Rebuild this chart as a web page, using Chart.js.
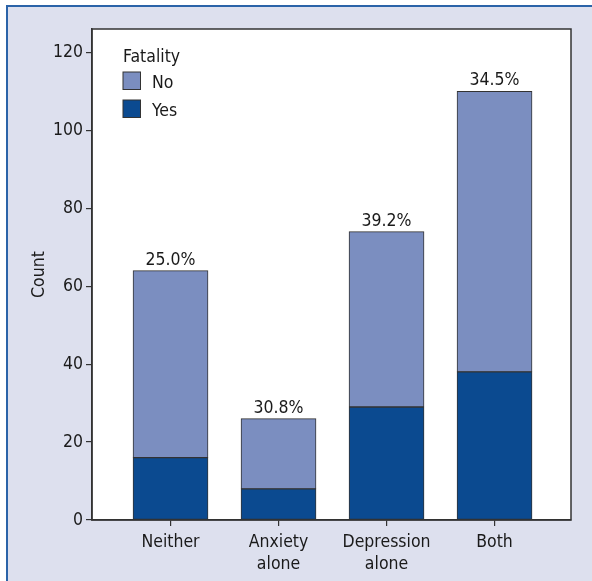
<!DOCTYPE html>
<html>
<head>
<meta charset="utf-8">
<script src="https://cdn.jsdelivr.net/npm/chart.js@4.4.1/dist/chart.umd.min.js"></script>
<style>
  html, body { margin: 0; padding: 0; background: #fff; }
  #wrap { position: relative; width: 592px; height: 581px; }
</style>
</head>
<body>
<div id="wrap"><canvas id="chart" width="592" height="581"></canvas></div>
<script>
// --- Data ---
const categories = [['Neither'], ['Anxiety', 'alone'], ['Depression', 'alone'], ['Both']];
const yesCounts = [16, 8, 29, 38];
const noCounts = [48, 18, 45, 72];
const yTicks = [0, 20, 40, 60, 80, 100, 120];

const FONT = "'DejaVu Sans Condensed', 'Liberation Sans Narrow', 'Arial Narrow', sans-serif";
const FSIZE = 17.5;
const NO_COLOR = '#7b8ec0';
const YES_COLOR = '#0b4a90';
const LINE = '#333333';
const TEXT = '#1a1a1a';

// background frame + plot box
const framePlugin = {
    id: 'frame',
    beforeDraw(chart) {
        const ctx = chart.ctx;
        ctx.save();
        ctx.fillStyle = '#dde0ee';
        ctx.fillRect(6, 5, chart.width - 6, chart.height - 5);
        ctx.fillStyle = '#2b63a8';
        ctx.fillRect(6, 5, chart.width - 6, 2);
        ctx.fillRect(6, 5, 2, chart.height - 5);
        const a = chart.chartArea;
        ctx.fillStyle = '#ffffff';
        ctx.fillRect(a.left, a.top, a.right - a.left, a.bottom - a.top);
        ctx.restore();
    },
    afterDraw(chart) {
        const ctx = chart.ctx;
        const a = chart.chartArea;
        ctx.save();
        ctx.strokeStyle = LINE;
        ctx.lineWidth = 1.5;
        ctx.strokeRect(a.left, a.top, a.right - a.left, a.bottom - a.top);
        ctx.restore();
    }
};

// percent labels over bars + legend inside plot
const labelPlugin = {
    id: 'labels',
    afterDatasetsDraw(chart) {
        const ctx = chart.ctx;
        const top = chart.getDatasetMeta(1).data;
        ctx.save();
        ctx.font = FSIZE + 'px ' + FONT;
        ctx.fillStyle = TEXT;
        ctx.textAlign = 'center';
        ctx.textBaseline = 'alphabetic';
        top.forEach((bar, i) => {
            const pct = (yesCounts[i] / (yesCounts[i] + noCounts[i]) * 100).toFixed(1);
            ctx.fillText(pct + '%', bar.x, bar.y - 6);
        });

        // legend
        ctx.textAlign = 'left';
        ctx.fillText('Fatality', 123, 62);
        const items = [['No', NO_COLOR, 72], ['Yes', YES_COLOR, 100]];
        items.forEach(([txt, col, y]) => {
            ctx.fillStyle = col;
            ctx.fillRect(123, y, 17.5, 17.5);
            ctx.strokeStyle = LINE;
            ctx.lineWidth = 1;
            ctx.strokeRect(123, y, 17.5, 17.5);
            ctx.fillStyle = TEXT;
            ctx.fillText(txt, 152, y + 16);
        });
        ctx.restore();
    }
};

new Chart(document.getElementById('chart'), {
    type: 'bar',
    data: {
        datasets: [
            {
                label: 'Yes',
                data: yesCounts.map((v, i) => ({x: i, y: v})),
                backgroundColor: YES_COLOR,
                borderColor: LINE,
                borderWidth: 1,
                borderSkipped: false,
                barThickness: 75
            },
            {
                label: 'No',
                data: noCounts.map((v, i) => ({x: i, y: v})),
                backgroundColor: NO_COLOR,
                borderColor: LINE,
                borderWidth: 1,
                borderSkipped: false,
                barThickness: 75
            }
        ]
    },
    options: {
        responsive: false,
        animation: false,
        layout: {padding: {top: 29, right: 21, left: 0, bottom: 0}},
        plugins: {legend: {display: false}, tooltip: {enabled: false}},
        scales: {
            x: {
                type: 'linear',
                stacked: true,
                offset: false,
                min: -0.727,
                max: 3.708,
                afterBuildTicks: axis => { axis.ticks = [0, 1, 2, 3].map(v => ({value: v})); },
                afterFit: axis => { axis.height = 61; },
                grid: {offset: false, drawOnChartArea: false, drawTicks: true, tickLength: 6, color: LINE, lineWidth: 1.2},
                border: {display: true, color: LINE, width: 1.5},
                ticks: {
                    autoSkip: false,
                    maxRotation: 0,
                    padding: 5,
                    color: TEXT,
                    font: {family: FONT, size: FSIZE, lineHeight: 1.27},
                    callback: v => categories[v]
                }
            },
            y: {
                stacked: true,
                min: 0,
                max: 126,
                afterBuildTicks: axis => { axis.ticks = yTicks.map(v => ({value: v})); },
                afterFit: axis => { axis.width = 92; },
                grid: {drawOnChartArea: false, drawTicks: true, tickLength: 6, color: LINE, lineWidth: 1.2},
                border: {display: true, color: LINE, width: 1.5},
                title: {
                    display: true,
                    text: 'Count',
                    color: TEXT,
                    font: {family: FONT, size: FSIZE},
                    padding: {top: 29, bottom: 0}
                },
                ticks: {
                    padding: 3,
                    color: TEXT,
                    font: {family: FONT, size: FSIZE}
                }
            }
        }
    },
    plugins: [framePlugin, labelPlugin]
});
</script>
</body>
</html>
